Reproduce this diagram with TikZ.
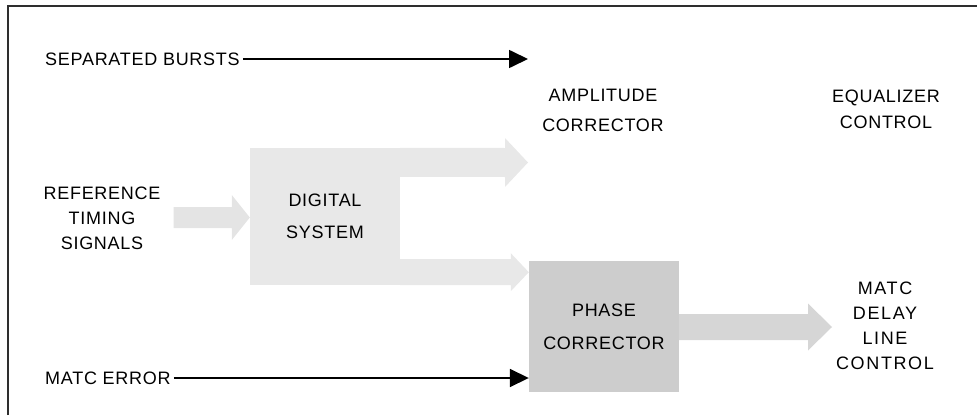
\documentclass[tikz,border=0pt]{standalone}
\usepackage{fontspec}
\setmainfont{Liberation Sans}[LetterSpace=4]
\usepackage{tikz}
\usetikzlibrary{positioning, calc, arrows.meta}
\definecolor{DigGray}{HTML}{E8E8E8}
\definecolor{RefGray}{HTML}{E4E4E4}
\definecolor{PhaseGray}{HTML}{CDCDCD}
\definecolor{FlowGray}{HTML}{D6D6D6}
\definecolor{FrameGray}{HTML}{2E2E2E}

% broad shaded flow: style, start, tip, band half, head half, head length
\newcommand{\fatarrow}[6]{%
  \fill[#1] ($(#2)+(0,-#4)$) -- ($(#3)+(-#6,-#4)$) -- ($(#3)+(-#6,-#5)$) -- (#3)
    -- ($(#3)+(-#6,#5)$) -- ($(#3)+(-#6,#4)$) -- ($(#2)+(0,#4)$) -- cycle;}

\tikzset{
  lab/.style={align=center, inner sep=0pt},
  wide/.style={lab, font=\fontsize{18}{25}\selectfont\addfontfeatures{LetterSpace=9}},
  blk/.style={minimum width=150pt, inner sep=0pt, align=center},
  sig/.style={line width=1.7pt, -{Triangle[length=19pt,width=18pt]}},
}

\begin{document}
\begin{tikzpicture}[x=1pt, y=-1pt, font=\fontsize{18}{25}\selectfont]
  \useasboundingbox (0,0) rectangle (977,415);
  \draw[FrameGray, line width=1.6pt] (8,415) -- (8,6) -- (977,6);

  % blocks
  \node[blk, fill=DigGray, minimum height=137pt, font=\fontsize{18}{32}\selectfont]
    (dig) at (325,216.5) {DIGITAL\\SYSTEM};
  \node[blk, fill=PhaseGray, minimum height=131pt, font=\fontsize{18}{33}\selectfont]
    (phase) at (604,326.5) {PHASE\\CORRECTOR};

  % labels
  \node[lab, anchor=west] (sep) at (45,59) {SEPARATED BURSTS};
  \node[lab, anchor=west] (err) at (45,378) {MATC ERROR};
  \node[lab] (ref) at (102,218) {REFERENCE\\TIMING\\SIGNALS};
  \node[lab, font=\fontsize{18}{30}\selectfont] (amp) at (603,110) {AMPLITUDE\\CORRECTOR};
  \node[wide, font=\fontsize{18}{26}\selectfont] (equ) at (886,109) {EQUALIZER\\CONTROL};
  \node[wide] (delay) at (885,325.5) {MATC\\DELAY\\LINE\\CONTROL};

  % broad flows
  \coordinate (refstart) at ($(ref.east)+(13,-0.5)$);
  \coordinate (reftip) at (dig.west |- refstart);
  \fatarrow{RefGray}{refstart}{reftip}{10.5}{22.5}{18}
  \coordinate (ampstart) at ($(dig.north east)+(0,14.5)$);
  \coordinate (amptip) at (528,162.5);
  \fatarrow{DigGray}{ampstart}{amptip}{14.5}{24.5}{23}
  \coordinate (phstart) at ($(dig.south east)+(0,-13)$);
  \coordinate (phtip) at (phase.west |- phstart);
  \fatarrow{DigGray}{phstart}{phtip}{13}{19}{18}
  \coordinate (outstart) at (phase.east |- 0,327);
  \coordinate (outtip) at (832,327);
  \fatarrow{FlowGray}{outstart}{outtip}{13}{23.5}{24}

  % thin signal lines
  \coordinate (sepend) at (528,59);
  \draw[sig] ([xshift=3pt]sep.east) -- (sepend);
  \draw[sig] ([xshift=3pt]err.east) -- (err.east -| phase.west);
\end{tikzpicture}
\end{document}
